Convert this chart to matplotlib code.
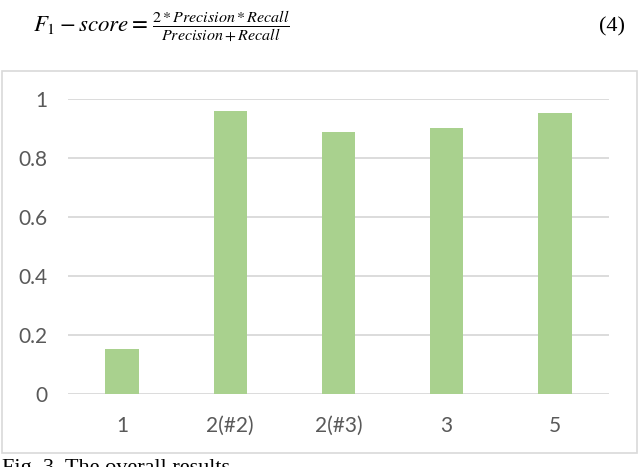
import matplotlib.pyplot as plt
from matplotlib.patches import Rectangle

# data
categories = ["1", "2(#2)", "2(#3)", "3", "5"]
f1_scores = [0.153, 0.960, 0.889, 0.901, 0.953]
y_ticks = [0, 0.2, 0.4, 0.6, 0.8, 1]
y_tick_labels = ["0", "0.2", "0.4", "0.6", "0.8", "1"]

W, H = 640, 467
plt.rcParams["mathtext.fontset"] = "stix"
fig = plt.figure(figsize=(W / 100, H / 100), dpi=100)
fig.patch.set_facecolor("white")

# chart frame (Excel style border)
fig.patches.append(Rectangle((2 / W, (H - 453) / H), 635 / W, 382 / H,
                             transform=fig.transFigure, fill=False,
                             edgecolor="#D9D9D9", lw=1.2))

ax = fig.add_axes([68 / W, (H - 394) / H, (609 - 68) / W, (394 - 99) / H])
x = range(len(categories))
ax.bar(x, f1_scores, width=0.31, color="#A9D18E", zorder=3)
ax.set_xlim(-0.5, len(categories) - 0.5)
ax.set_ylim(0, 1)
ax.set_yticks(y_ticks)
ax.set_yticklabels(y_tick_labels)
ax.set_xticks(list(x))
ax.set_xticklabels(categories)
for s in ax.spines.values():
    s.set_visible(False)
ax.grid(axis="y", color="#D9D9D9", lw=1.3, zorder=0)
ax.tick_params(length=0, labelcolor="#595959", labelsize=15)
ax.tick_params(axis="y", pad=15)
ax.tick_params(axis="x", pad=16)
for lab in ax.get_xticklabels() + ax.get_yticklabels():
    lab.set_fontfamily("Lato")

# equation above the chart
fig.text(33 / W, (H - 25) / H, r"$F_1 - score =$",
         fontsize=16.5, va="center", ha="left")
fig.text(152 / W, (H - 27) / H,
         r"$\frac{2*Precision*Recall}{Precision+Recall}$",
         fontsize=16.5, va="center", ha="left")
fig.text(625 / W, (H - 27) / H, "(4)", fontsize=16, va="center", ha="right",
         family="Liberation Serif")

# caption, cut off at the bottom edge
fig.text(2 / W, (H - 459) / H, "Fig. 3. The overall results", fontsize=16,
         va="top", ha="left", family="Liberation Serif")

fig.savefig("out.png", dpi=100, facecolor="white")
